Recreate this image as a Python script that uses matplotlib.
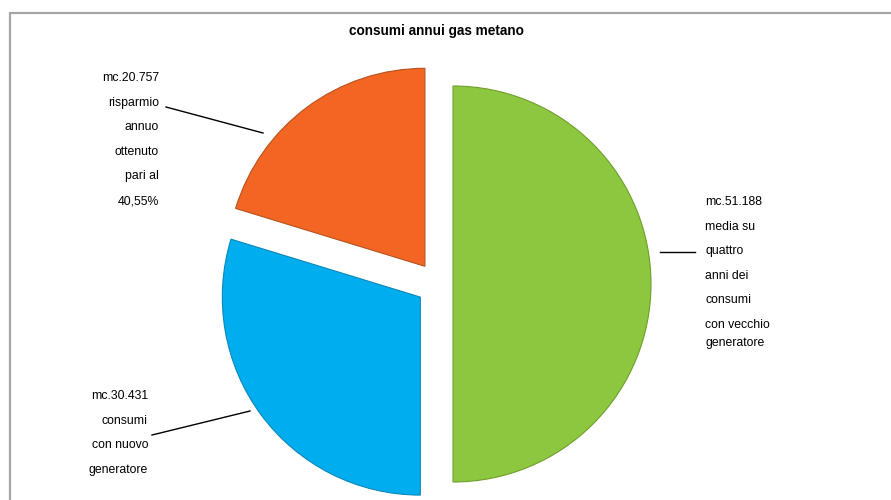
import matplotlib.pyplot as plt

plt.rcParams["font.family"] = ['Liberation Sans', 'DejaVu Sans']

# dati
valori = [51188, 30431, 20757]
etichette = [
    'mc.51.188\nmedia su\nquattro\nanni dei\nconsumi\ncon vecchio',
    'mc.30.431\nconsumi\ncon nuovo\ngeneratore',
    'mc.20.757\nrisparmio\nannuo\nottenuto\npari al\n40,55%',
]
colori = ['#8DC63F', '#00AEEF', '#F26522']
bordi = ['#6E9F2C', '#0A86B8', '#B5531E']
titolo = 'consumi annui gas metano'

W, H = 891, 500
fig = plt.figure(figsize=(W / 100, H / 100), dpi=100)
ax = fig.add_axes([0, 0, 1, 1])

cx, cy = 438, H - 284
wedges, _ = ax.pie(
    valori, colors=colori, startangle=90, counterclock=False,
    radius=198, center=(cx, cy), explode=[15, 22, 22],
    wedgeprops={'linewidth': 0.8},
)
for w, b in zip(wedges, bordi):
    w.set_edgecolor(b)

ax.set_xlim(0, W)
ax.set_ylim(0, H)
ax.set_aspect('equal')
ax.axis('off')

# cornice
ax.plot([9.5, 9.5, W + 5], [-5, H - 12.5, H - 12.5], color='#A6A6A6', lw=1.6,
        solid_joinstyle='miter', clip_on=False)

ax.text(436, H - 31, titolo, ha='center', va='center', fontsize=9.8, fontweight='bold')

txt = dict(fontsize=8.8, linespacing=2.4)
# verde
ax.text(705, H - 196, etichette[0], ha='left', va='top', **txt)
ax.text(705, H - 343, 'generatore', ha='left', va='center', fontsize=8.8)
ax.plot([660, 695], [H - 252, H - 252], color='black', lw=1)
# blu
ax.text(148, H - 390, etichette[1], ha='right', va='top', **txt)
ax.plot([152, 250], [H - 435, H - 411], color='black', lw=1)
# arancio
ax.text(159, H - 72, etichette[2], ha='right', va='top', **txt)
ax.plot([166, 263], [H - 107, H - 133], color='black', lw=1)

fig.savefig('out.png', dpi=100)
